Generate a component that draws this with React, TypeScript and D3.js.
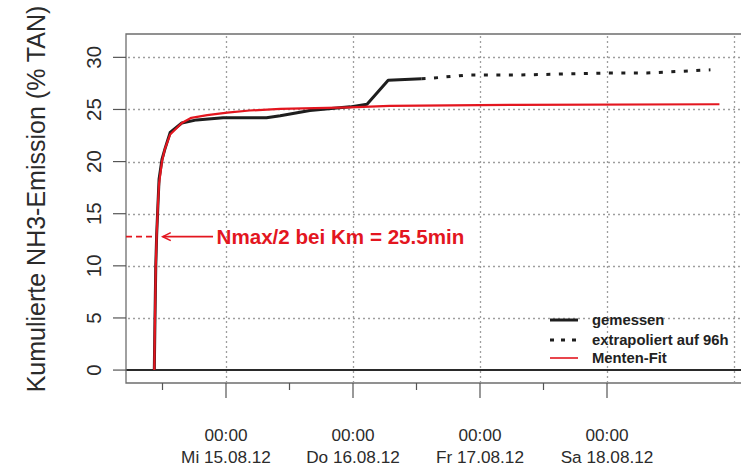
import * as d3 from "d3"

// Messzeit in Stunden ab Versuchsbeginn (14.08.12 ~10:27)
const measuredHours = [0, 0.13, 0.28, 0.45, 0.7, 0.9, 1.45, 2.0, 3.0, 5.2, 8.0, 13.0, 21.2, 23.8, 29.4, 37.0, 40.2, 44.2, 50.5]
const measuredValues = [0, 5, 10, 13, 16, 18.3, 20.2, 21.2, 22.8, 23.7, 24.0, 24.2, 24.2, 24.4, 24.9, 25.25, 25.5, 27.8, 27.95]

const extrapHours = [50.5, 52.4, 59.0, 68.5, 85.5, 93.1, 105.1]
const extrapValues = [27.95, 28.0, 28.3, 28.3, 28.5, 28.5, 28.8]

const fitHours = [0, 0.13, 0.28, 0.45, 0.7, 0.9, 1.45, 2.0, 3.0, 5.2, 7.0, 10.0, 13.8, 18.0, 23.8, 37.0, 44.5, 68.5, 106.8]
const fitValues = [0, 5, 10, 13, 16, 17.9, 20.0, 21.2, 22.6, 23.7, 24.2, 24.45, 24.7, 24.9, 25.05, 25.2, 25.35, 25.45, 25.5]

const yTicks = [0, 5, 10, 15, 20, 25, 30]
const dayTicks = ["2012-08-15", "2012-08-16", "2012-08-17", "2012-08-18"]
const gridDays = ["2012-08-15", "2012-08-16", "2012-08-17", "2012-08-18", "2012-08-19"]
const halfDayTicks = ["2012-08-14", "2012-08-15", "2012-08-16", "2012-08-17"]
const weekdays = ["So", "Mo", "Di", "Mi", "Do", "Fr", "Sa"]

const legendLabels = ["gemessen", "extrapoliert auf 96h", "Menten-Fit"]
const annotationText = "Nmax/2 bei Km = 25.5min"
const halfLevel = 12.8
const kmHours = 0.425
const arrowFromHour = 11.1
const arrowToHour = 1.6

const yTitle = "Kumulierte NH3-Emission (% TAN)"

const RED = "#e3161f"
const FONT = "'Liberation Sans', Arial, Helvetica, sans-serif"

function parseDay(s: string, hour = 0) {
  const [y, m, d] = s.split("-").map(Number)
  return new Date(y, m - 1, d, hour, 0)
}

export default function App() {
  const width = 741
  const height = 473
  const left = 126
  const right = 741
  const top = 34
  const bottom = 383

  const start = new Date(2012, 7, 14, 10, 27)
  const hourToDate = (h: number) => new Date(start.getTime() + h * 3600 * 1000)

  const x = d3
    .scaleTime()
    .domain([parseDay("2012-08-15"), parseDay("2012-08-19")])
    .range([226, 734])
  const y = d3.scaleLinear().domain([-1.24, 32.24]).range([bottom, top])

  const line = d3
    .line<[number, number]>()
    .x((d) => x(hourToDate(d[0])))
    .y((d) => y(d[1]))

  const measured = measuredHours.map((h, i) => [h, measuredValues[i]] as [number, number])
  const extrap = extrapHours.map((h, i) => [h, extrapValues[i]] as [number, number])
  const fit = fitHours.map((h, i) => [h, fitValues[i]] as [number, number])

  const yHalf = y(halfLevel)
  const xKm = x(hourToDate(kmHours))
  const xArrowFrom = x(hourToDate(arrowFromHour))
  const xArrowTo = x(hourToDate(arrowToHour))

  const fmtDate = (d: Date) =>
    `${weekdays[d.getDay()]} ${d3.timeFormat("%d.%m.%y")(d)}`

  const legendX = 550
  const legendRows = [320, 340, 358]

  return (
    <svg
      width={width}
      height={height}
      style={{ position: "absolute", left: 0, top: 0, background: "#fff" }}
      fontFamily={FONT}
    >
      <rect width={width} height={height} fill="#fff" />

      {/* grid */}
      <g stroke="#9e9e9e" strokeWidth={1.3} strokeDasharray="2 3">
        {yTicks.filter((t) => t > 0).map((t) => (
          <line key={"h" + t} x1={left + 2} x2={right} y1={Math.round(y(t)) + 0.5} y2={Math.round(y(t)) + 0.5} />
        ))}
        {gridDays.map((s) => (
          <line
            key={"v" + s}
            x1={Math.round(x(parseDay(s))) + 0.5}
            x2={Math.round(x(parseDay(s))) + 0.5}
            y1={top + 2}
            y2={bottom - 1}
          />
        ))}
      </g>

      {/* zero line */}
      <line x1={left} x2={right} y1={y(0)} y2={y(0)} stroke="#2a2a2a" strokeWidth={2} />

      {/* box */}
      <path
        d={`M${right + 2},${top}H${left}V${bottom}H${right + 2}`}
        fill="none"
        stroke="#6e6e6e"
        strokeWidth={1.3}
      />

      {/* data */}
      <g fill="none">
        <path d={line(extrap) || ""} stroke="#1e1e1e" strokeWidth={3} strokeDasharray="4 8.5" />
        <path d={line(measured) || ""} stroke="#1e1e1e" strokeWidth={3} strokeLinejoin="round" />
        <path d={line(fit) || ""} stroke={RED} strokeWidth={2.2} strokeLinejoin="round" />
      </g>

      {/* annotation */}
      <line x1={left} x2={xKm} y1={yHalf} y2={yHalf} stroke={RED} strokeWidth={1.6} strokeDasharray="6 4" />
      <g stroke={RED} strokeWidth={1.6} fill="none">
        <line x1={xArrowFrom} x2={xArrowTo} y1={yHalf} y2={yHalf} />
        <path d={`M${xArrowTo + 8},${yHalf - 4}L${xArrowTo},${yHalf}L${xArrowTo + 8},${yHalf + 4}`} />
      </g>
      <text x={xArrowFrom + 3.5} y={yHalf + 7.5} fill={RED} fontSize={20.6} fontWeight="bold">
        {annotationText}
      </text>

      {/* y axis */}
      <g stroke="#555" strokeWidth={1.2}>
        {yTicks.map((t) => (
          <line key={t} x1={left - 13} x2={left} y1={y(t)} y2={y(t)} />
        ))}
      </g>
      {yTicks.map((t) => (
        <text
          key={t}
          transform={`translate(${101},${y(t)}) rotate(-90)`}
          textAnchor="middle"
          fontSize={20.5}
          fill="#2b2b2b"
        >
          {t}
        </text>
      ))}
      <text
        transform={`translate(${45},${199}) rotate(-90)`}
        textAnchor="middle"
        fontSize={25}
        fill="#2b2b2b"
      >
        {yTitle}
      </text>

      {/* x axis */}
      <g stroke="#555" strokeWidth={1.2}>
        {dayTicks.map((s) => (
          <line key={s} x1={x(parseDay(s))} x2={x(parseDay(s))} y1={bottom} y2={bottom + 15} />
        ))}
        {halfDayTicks.map((s) => (
          <line key={s} x1={x(parseDay(s, 12))} x2={x(parseDay(s, 12))} y1={bottom} y2={bottom + 7} />
        ))}
      </g>
      {dayTicks.map((s) => {
        const d = parseDay(s)
        return (
          <text key={s} x={x(d)} textAnchor="middle" fontSize={17.2} fill="#2b2b2b">
            <tspan x={x(d)} y={441}>{d3.timeFormat("%H:%M")(d)}</tspan>
            <tspan x={x(d)} y={463}>{fmtDate(d)}</tspan>
          </text>
        )
      })}

      {/* legend */}
      <g>
        <line x1={legendX} x2={legendX + 28} y1={legendRows[0]} y2={legendRows[0]} stroke="#1e1e1e" strokeWidth={3} />
        <line
          x1={legendX}
          x2={legendX + 28}
          y1={legendRows[1]}
          y2={legendRows[1]}
          stroke="#1e1e1e"
          strokeWidth={3}
          strokeDasharray="4 7"
        />
        <line x1={legendX} x2={legendX + 28} y1={legendRows[2]} y2={legendRows[2]} stroke={RED} strokeWidth={1.6} />
        {legendLabels.map((l, i) => (
          <text key={l} x={592} y={legendRows[i] + 5} fontSize={14.8} fontWeight="bold" fill="#222">
            {l}
          </text>
        ))}
      </g>
    </svg>
  )
}
